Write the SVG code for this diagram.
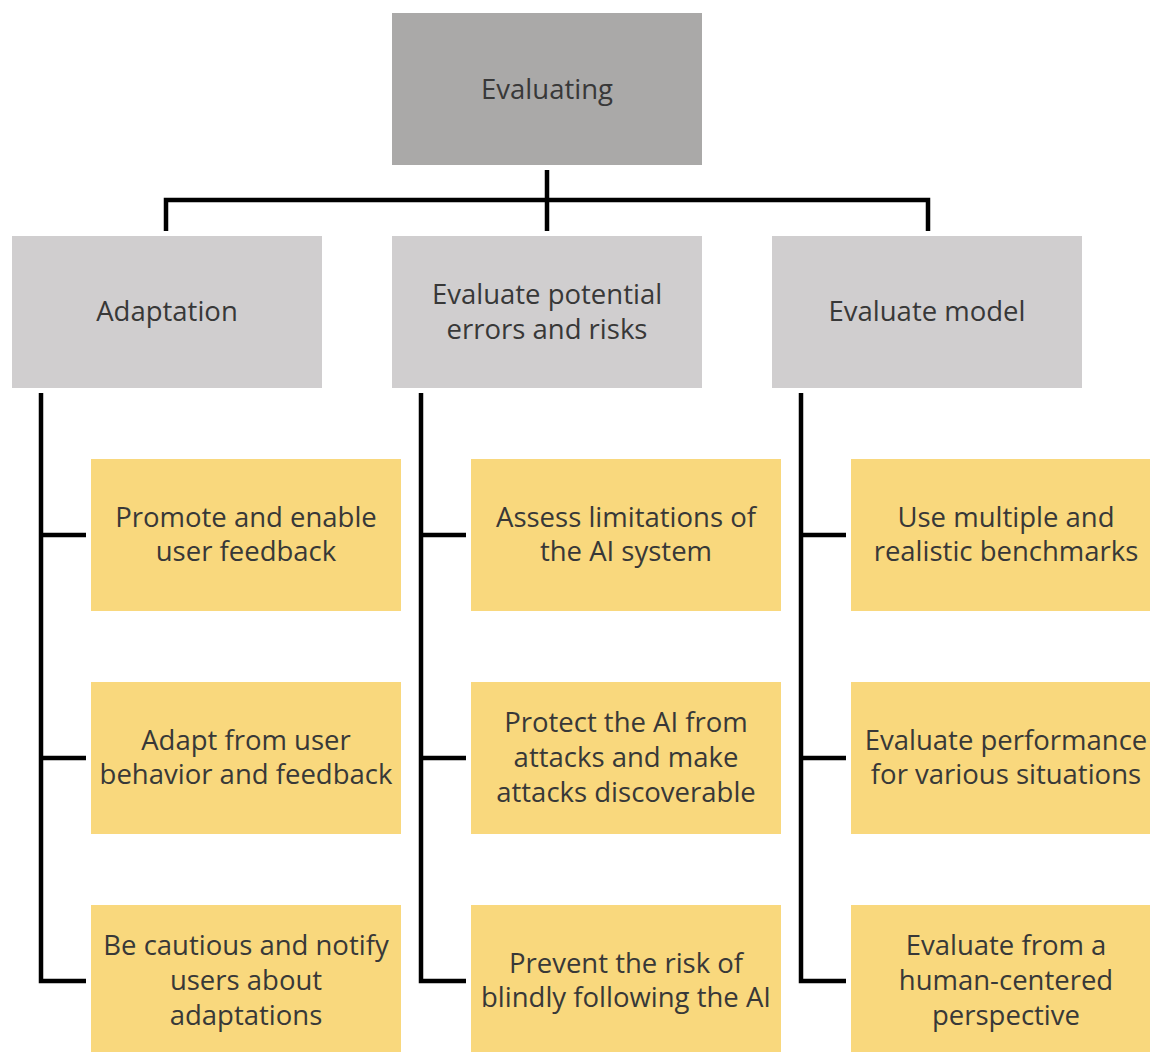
<svg xmlns="http://www.w3.org/2000/svg" width="1150" height="1052" viewBox="0 0 1150 1052">
  <style>
    .root { fill: #aaa9a8; }
    .branch { fill: #d0cecf; }
    .leaf { fill: #f9d87d; }
    text { font-family: "Open Sans", "Liberation Sans", Arial, sans-serif; font-size: 27.5px; fill: #383838; text-anchor: middle; }
    .wire { fill: none; stroke: #000; stroke-width: 4.5; stroke-linecap: butt; stroke-linejoin: miter; }
  </style>
  <rect width="1150" height="1052" fill="#fff"/>

  <g id="connectors">
    <path class="wire" d="M547 170 V231 M166 231 V200 H928 V231"/>
    <path class="wire" d="M41 393 V981 H86 M41 535 H86 M41 758 H86"/>
    <path class="wire" d="M421 393 V981 H466 M421 535 H466 M421 758 H466"/>
    <path class="wire" d="M801 393 V981 H846 M801 535 H846 M801 758 H846"/>
  </g>

  <g id="evaluating">
    <rect class="root" x="392" y="13" width="310" height="152"/>
    <text x="547" y="99">Evaluating</text>
  </g>

  <g id="adaptation">
    <rect class="branch" x="12" y="236" width="310" height="152"/>
    <text x="167" y="321">Adaptation</text>
  </g>
  <g id="errors-risks">
    <rect class="branch" x="392" y="236" width="310" height="152"/>
    <text x="547" y="304">Evaluate potential</text>
    <text x="547" y="339">errors and risks</text>
  </g>
  <g id="evaluate-model">
    <rect class="branch" x="772" y="236" width="310" height="152"/>
    <text x="927" y="321">Evaluate model</text>
  </g>

  <g id="promote-feedback">
    <rect class="leaf" x="91" y="459" width="310" height="152"/>
    <text x="246" y="527">Promote and enable</text>
    <text x="246" y="561">user feedback</text>
  </g>
  <g id="adapt-behavior">
    <rect class="leaf" x="91" y="682" width="310" height="152"/>
    <text x="246" y="750">Adapt from user</text>
    <text x="246" y="784">behavior and feedback</text>
  </g>
  <g id="notify-adaptations">
    <rect class="leaf" x="91" y="905" width="310" height="152"/>
    <text x="246" y="955">Be cautious and notify</text>
    <text x="246" y="990">users about</text>
    <text x="246" y="1025">adaptations</text>
  </g>

  <g id="assess-limitations">
    <rect class="leaf" x="471" y="459" width="310" height="152"/>
    <text x="626" y="527">Assess limitations of</text>
    <text x="626" y="561">the AI system</text>
  </g>
  <g id="protect-attacks">
    <rect class="leaf" x="471" y="682" width="310" height="152"/>
    <text x="626" y="732">Protect the AI from</text>
    <text x="626" y="767">attacks and make</text>
    <text x="626" y="802">attacks discoverable</text>
  </g>
  <g id="blind-following">
    <rect class="leaf" x="471" y="905" width="310" height="152"/>
    <text x="626" y="973">Prevent the risk of</text>
    <text x="626" y="1007">blindly following the AI</text>
  </g>

  <g id="benchmarks">
    <rect class="leaf" x="851" y="459" width="310" height="152"/>
    <text x="1006" y="527">Use multiple and</text>
    <text x="1006" y="561">realistic benchmarks</text>
  </g>
  <g id="performance">
    <rect class="leaf" x="851" y="682" width="310" height="152"/>
    <text x="1006" y="750">Evaluate performance</text>
    <text x="1006" y="784">for various situations</text>
  </g>
  <g id="human-centered">
    <rect class="leaf" x="851" y="905" width="310" height="152"/>
    <text x="1006" y="955">Evaluate from a</text>
    <text x="1006" y="990">human-centered</text>
    <text x="1006" y="1025">perspective</text>
  </g>
</svg>
